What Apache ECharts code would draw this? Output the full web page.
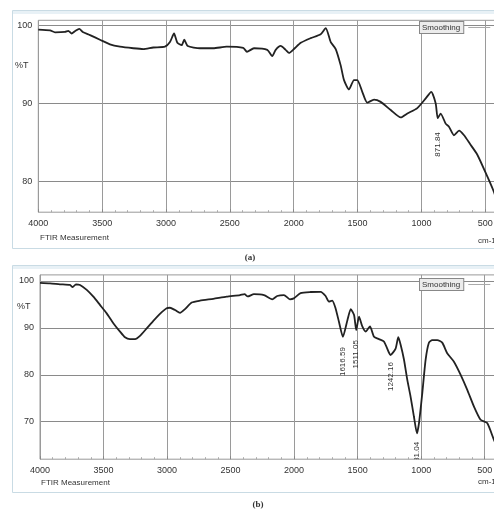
<!DOCTYPE html>
<html>
<head>
<meta charset="utf-8">
<script src="https://cdn.jsdelivr.net/npm/echarts@6/dist/echarts.min.js"></script>
<style>html,body{margin:0;padding:0;background:#fff}#c{width:494px;height:510px}</style>
</head>
<body>
<div id="c"></div>
<script>
// ---- Panel (a) spectrum ----
const waveA = [4000,3908,3869,3791,3765,3739,3713,3679,3652,3595,3517,3439,3360,3256,3178,3100,3008,2969,2937,2911,2877,2857,2830,2734,2630,2525,2395,2366,2311,2207,2168,2141,2102,2063,2037,1998,1945,1867,1789,1749,1710,1671,1632,1606,1567,1528,1502,1463,1424,1371,1319,1240,1162,1110,1032,966,923,888,872,849,810,784,745,705,666,620,562,484,432,400];
const transA = [99.5,99.4,99.15,99.2,99.35,99.0,99.3,99.6,99.2,98.8,98.2,97.6,97.3,97.1,97.0,97.2,97.3,97.9,99.0,97.8,97.5,98.2,97.4,97.1,97.1,97.3,97.15,96.65,97.1,96.9,96.1,96.9,97.4,96.9,96.5,97.0,97.8,98.4,98.9,99.7,97.9,97.0,94.9,93.0,91.8,93.0,93.0,91.5,90.1,90.5,90.2,89.15,88.2,88.7,89.4,90.65,91.5,90.0,88.1,88.7,87.4,87.0,85.9,86.5,85.9,84.8,83.4,80.6,78.6,77.0];
// ---- Panel (b) spectrum ----
const waveB = [4000,3921,3843,3764,3743,3717,3685,3632,3580,3528,3475,3423,3370,3331,3292,3252,3213,3160,3108,3056,3003,2977,2937,2898,2859,2806,2741,2636,2531,2426,2390,2365,2316,2237,2172,2133,2080,2033,2002,1949,1870,1791,1752,1726,1700,1674,1647,1616,1580,1554,1528,1511,1489,1463,1437,1403,1371,1332,1293,1253,1242,1201,1180,1161,1135,1109,1083,1057,1033,1017,991,965,939,913,873,834,795,742,689,637,584,532,480,427,400];
const transB = [99.6,99.5,99.3,99.15,98.7,99.3,99.15,98.1,96.65,94.9,93.1,91.0,89.2,88.0,87.6,87.6,88.3,89.9,91.5,93.0,94.2,94.3,93.8,93.2,94.0,95.4,95.8,96.2,96.65,97.0,97.2,96.7,97.2,97.0,96.1,96.8,97.0,96.1,96.3,97.4,97.65,97.7,96.8,95.6,95.8,94.2,91.3,88.1,91.7,94.0,92.75,89.55,92.4,90.3,89.2,90.3,88.1,87.6,87.1,84.7,84.2,85.6,88.0,86.35,83.2,78.9,75.3,71.1,67.5,69.7,76.1,83.2,86.85,87.4,87.4,86.85,84.6,82.8,80.0,76.8,73.2,70.4,69.7,66.1,64.5];
// ---- Peak annotations ----
const peakTextA = ['871.84'];
const peakWaveA = [871.84];
const peakAnchorA = [86.3];
const peakTextB = ['1616.59','1511.05','1242.16','1031.04'];
const peakWaveB = [1616.59,1511.05,1242.16,1031.04];
const peakAnchorB = [85.9,87.4,82.7,65.7];
// ---- Axis ticks ----
const xTickInterval = 500;
const yGridA = [80,90,100];
const yGridB = [70,80,90,100];

const FONT = '"Liberation Sans", Arial, sans-serif';
const pairs = (w,t) => w.map((v,i)=>[v,t[i]]);

function xAxis(gi){
  return {type:'value', gridIndex:gi, inverse:true, min:0, max:4000, interval:xTickInterval,
    axisLine:{show:false},
    axisTick:{show:true, inside:true, length:3, lineStyle:{color:'#888'}},
    minorTick:{show:true, splitNumber:5, length:2, lineStyle:{color:'#aaa'}},
    axisLabel:{fontSize:9, color:'#333', margin:7, fontFamily:FONT, formatter:v => String(v)},
    splitLine:{show:true, lineStyle:{color:'#9a9a9a', width:1}}};
}
function yAxisMain(gi,min,max){
  return {type:'value', gridIndex:gi, position:'left', min:min, max:max, interval:2,
    axisLine:{show:false},
    axisTick:{show:true, inside:false, length:3, lineStyle:{color:'#999'}},
    axisLabel:{fontSize:9, color:'#333', margin:6, fontFamily:FONT, showMaxLabel:false,
      formatter:v => (Math.abs(v%10)<1e-6 ? String(v) : '')},
    splitLine:{show:false}};
}
function yAxisGrid(gi,min,max,vals){
  return {type:'value', gridIndex:gi, position:'left', min:min, max:max,
    axisLine:{show:false}, axisLabel:{show:false},
    axisTick:{show:false, customValues:vals},
    splitLine:{show:true, lineStyle:{color:'#8a8a8a', width:1}}};
}
function peakSeries(xi, yi, texts, waves, anchors){
  return {type:'custom', xAxisIndex:xi, yAxisIndex:yi, clip:true, silent:true,
    data: waves.map((w,i)=>[w, anchors[i]]),
    encode:{x:0,y:1},
    renderItem:(params, api)=>{
      const p = api.coord([api.value(0), api.value(1)]);
      return {type:'text', x:p[0], y:p[1], rotation:Math.PI/2,
        style:{text:texts[params.dataIndex], fill:'#333', fontSize:8, fontFamily:FONT,
          align:'right', verticalAlign:'middle'}};
    }};
}
function legend(top){
  return {data:['Smoothing'], left:419, top:top, padding:0, align:'right', itemGap:0,
    icon:'rect', itemWidth:22, itemHeight:1, itemStyle:{color:'#aaa'},
    textStyle:{fontSize:8, color:'#333', fontFamily:FONT, backgroundColor:'#ececec',
      borderColor:'#888', borderWidth:1, padding:[2,3,1,2]}};
}
const txt = (x,y,t,extra) => ({type:'text', x:x, y:y, silent:true,
  style:Object.assign({text:t, fill:'#333', fontSize:8, fontFamily:FONT, verticalAlign:'middle'}, extra||{})});

const chart = echarts.init(document.getElementById('c'), null, {renderer:'canvas'});
chart.setOption({
  animation:false,
  backgroundColor:'#fff',
  grid:[
    {left:38.3, top:20.3, width:510.8, height:191.9, outerBoundsMode:'none', containLabel:false, show:true, borderColor:'#999', borderWidth:1, backgroundColor:'transparent'},
    {left:40, top:274.9, width:508.2, height:184.3, outerBoundsMode:'none', containLabel:false, show:true, borderColor:'#999', borderWidth:1, backgroundColor:'transparent'}
  ],
  xAxis:[xAxis(0), xAxis(1)],
  yAxis:[yAxisMain(0,76,100.7), yAxisGrid(0,76,100.7,yGridA), yAxisMain(1,62,101.3), yAxisGrid(1,62,101.3,yGridB)],
  legend:[legend(21), legend(278)],
  graphic:[
    {type:'rect', shape:{x:12.5,y:10.5,width:490,height:238}, style:{fill:'none', stroke:'#c9dbe4', lineWidth:1}, silent:true},
    {type:'rect', shape:{x:13,y:11,width:489,height:3}, style:{fill:'#e8f1f6'}, silent:true},
    {type:'rect', shape:{x:12.5,y:265.5,width:490,height:227}, style:{fill:'none', stroke:'#c9dbe4', lineWidth:1}, silent:true},
    {type:'rect', shape:{x:13,y:266,width:489,height:3}, style:{fill:'#e8f1f6'}, silent:true},
    txt(15,66,'%T',{fontSize:9}),
    txt(17,307,'%T',{fontSize:9}),
    txt(40,238,'FTIR Measurement'),
    txt(41,483,'FTIR Measurement'),
    txt(478,241,'cm-1'),
    txt(478,482,'cm-1'),
    txt(250,258,'(a)',{fontFamily:'"Liberation Serif", serif', fontWeight:'bold', fontSize:9, align:'center'}),
    txt(258,505,'(b)',{fontFamily:'"Liberation Serif", serif', fontWeight:'bold', fontSize:9, align:'center'})
  ],
  series:[
    {name:'Smoothing', type:'line', xAxisIndex:0, yAxisIndex:0, data:pairs(waveA,transA), symbol:'none', smooth:0.2,
      lineStyle:{color:'#222', width:1.8}, clip:true},
    {name:'Smoothing', type:'line', xAxisIndex:1, yAxisIndex:2, data:pairs(waveB,transB), symbol:'none', smooth:0.2,
      lineStyle:{color:'#222', width:1.8}, clip:true},
    peakSeries(0,0,peakTextA,peakWaveA,peakAnchorA),
    peakSeries(1,2,peakTextB,peakWaveB,peakAnchorB)
  ]
});
</script>
</body>
</html>
